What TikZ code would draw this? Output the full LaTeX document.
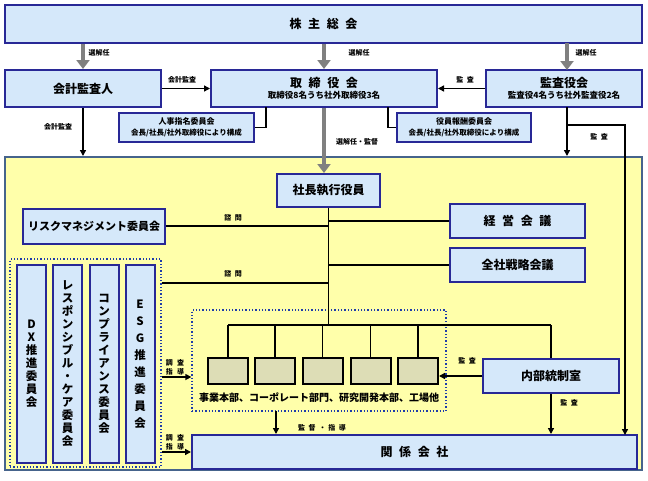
\documentclass[tikz,border=0pt]{standalone}
\usepackage{fontspec}
\setmainfont{Noto Sans CJK JP}
\usetikzlibrary{arrows.meta}
\definecolor{lb}{RGB}{213,232,250}
\definecolor{navy}{RGB}{40,40,150}
\definecolor{ylw}{RGB}{255,255,170}
\definecolor{ylwborder}{RGB}{70,100,140}
\definecolor{khaki}{RGB}{221,221,182}
\definecolor{dotblue}{RGB}{30,60,170}
\definecolor{garrowc}{RGB}{128,128,128}
\newcommand\gsp{\hspace{0.55em}}
\begin{document}
\begin{tikzpicture}[x=1pt,y=-1pt,font=\bfseries,
  bluebox/.style={draw=navy,fill=lb,line width=2,inner sep=0,align=center},
  deptbox/.style={draw=black,fill=khaki,line width=2,inner sep=0,minimum width=40,minimum height=26},
  dotbox/.style={draw=dotblue,line width=1.3,dotted,inner sep=0},
  lbl/.style={font=\bfseries\fontsize{7}{8}\selectfont,inner sep=0},
  big/.style={font=\bfseries\fontsize{12}{14}\selectfont},
  vert/.style={bluebox,font=\bfseries\fontsize{11.5}{13}\selectfont,minimum width=29,minimum height=198},
  garrow/.style={draw=garrowc,line width=4,-{Triangle[length=9pt,width=13pt]}},
  barrow/.style={draw=black,line width=1.4,-{Triangle[length=6pt,width=6pt]}},
  bline/.style={draw=black,line width=1.4}]
\useasboundingbox (0,0) rectangle (648,480);
% yellow region
\node[draw=ylwborder,fill=ylw,line width=2,inner sep=0,minimum width=637,minimum height=313] (yel) at (323.5,313.5) {};
% top
\node[bluebox,big,minimum width=637,minimum height=38] (kabu) at (323.5,24) {株\gsp{}主\gsp{}総\gsp{}会};
\node[bluebox,big,minimum width=156,minimum height=37] (kaikei) at (83,88.5) {会計監査人};
\node[bluebox,minimum width=226,minimum height=37] (tori) at (324,88.5) {{\fontsize{12}{14}\selectfont 取\gsp{}締\gsp{}役\gsp{}会}\\[-1pt]{\fontsize{8.5}{9}\selectfont 取締役8名うち社外取締役3名}};
\node[bluebox,minimum width=156,minimum height=37] (kansa) at (564,88.5) {{\fontsize{12}{14}\selectfont 監査役会}\\[-1pt]{\fontsize{8.5}{9}\selectfont 監査役4名うち社外監査役2名}};
\node[bluebox,minimum width=135,minimum height=29] (jinji) at (186.5,127.5) {{\fontsize{8}{9}\selectfont 人事指名委員会}\\[-1pt]{\fontsize{7.5}{8}\selectfont 会長/社長/社外取締役により構成}};
\node[bluebox,minimum width=134,minimum height=29] (yakuin) at (464,127.5) {{\fontsize{8}{9}\selectfont 役員報酬委員会}\\[-1pt]{\fontsize{7.5}{8}\selectfont 会長/社長/社外取締役により構成}};
% executive
\node[bluebox,big,minimum width=103,minimum height=33] (shacho) at (328.5,190.5) {社長執行役員};
\node[bluebox,font=\bfseries\fontsize{11}{13}\selectfont,minimum width=142,minimum height=35] (risk) at (94,226) {リスクマネジメント委員会};
\node[bluebox,big,minimum width=135,minimum height=34] (keiei) at (517.5,221) {経\gsp{}営\gsp{}会\gsp{}議};
\node[bluebox,big,minimum width=135,minimum height=34] (zensha) at (517.5,265) {全社戦略会議};
% left committees
\node[dotbox,minimum width=151,minimum height=208] (ldot) at (85.5,363) {};
\node[vert] (dx) at (31.5,364) {D\\X\\推\\進\\委\\員\\会};
\node[vert] (rc) at (67.5,364) {レ\\ス\\ポ\\ン\\シ\\ブ\\ル\\・\\ケ\\ア\\委\\員\\会};
\node[vert] (comp) at (104,364) {コ\\ン\\プ\\ラ\\イ\\ア\\ン\\ス\\委\\員\\会};
\node[vert,font=\bfseries\fontsize{11.5}{17}\selectfont] (esg) at (140,364) {E\\S\\G\\推\\進\\委\\員\\会};
% departments
\node[dotbox,minimum width=254,minimum height=101] (cdot) at (319,360.5) {};
\node[deptbox] (d1) at (228,371) {};
\node[deptbox] (d2) at (275,371) {};
\node[deptbox] (d3) at (322.5,371) {};
\node[deptbox] (d4) at (370.5,371) {};
\node[deptbox] (d5) at (418,371) {};
\node[inner sep=0,font=\bfseries\fontsize{10}{12}\selectfont] (dlbl) at (319,398) {事業本部、コーポレート部門、研究開発本部、工場他};
\node[bluebox,big,minimum width=136,minimum height=34] (naibu) at (551,376) {内部統制室};
\node[bluebox,big,minimum width=445,minimum height=34] (kankei) at (414.5,452) {関\gsp{}係\gsp{}会\gsp{}社};
% gray arrows
\draw[garrow] (kabu.south -| kaikei.north) -- (kaikei.north);
\draw[garrow] (kabu.south -| tori.north) -- (tori.north);
\draw[garrow] (567,43) -- (567,70);
\draw[garrow] (tori.south) -- (tori.south |- shacho.north);
\node[lbl] (l1) at (99,53) {選解任};
\node[lbl] (l2) at (359,53) {選解任};
\node[lbl] (l3) at (586,53) {選解任};
% top black connectors
\draw[barrow] (kaikei.east) -- (tori.west);
\node[lbl] (l4) at (182,80) {会計監査};
\draw[barrow] (kansa.west) -- (tori.east);
\node[lbl] (l5) at (465,80) {監\hspace{0.5em}査};
\coordinate (j1) at (266,107);
\draw[bline] (j1) |- (jinji.east);
\coordinate (y1) at (388,107);
\draw[bline] (y1) |- (yakuin.west);
\draw[barrow] (kaikei.south) -- (kaikei.south |- yel.north);
\node[lbl] (l6) at (58,127) {会計監査};
\node[lbl] (l7) at (357,142) {選解任・監督};
\coordinate (k1) at (567,107);
\coordinate (k2) at (567,125);
\coordinate (k3) at (625,435);
\draw[barrow] (k1) -- (k1 |- yel.north);
\draw[bline] (k2) -| (625,420);
\draw[barrow] (625,420) -- (k3);
\node[lbl] (l8) at (599,137) {監\hspace{0.5em}査};
% trunk
\coordinate (t1) at (328.5,325);
\draw[bline] (shacho.south) -- (t1);
\draw[bline] (risk.east) -- (risk.east -| t1);
\node[lbl] (l9) at (233,218) {諮\hspace{0.5em}問};
\draw[bline] (keiei.west) -- (keiei.west -| t1);
\draw[bline] (zensha.west) -- (zensha.west -| t1);
\coordinate (lc) at (161.5,283);
\draw[bline] (lc) -- (lc -| t1);
\node[lbl] (l10) at (233,274) {諮\hspace{0.5em}問};
\draw[bline] (d1.north |- t1) -- (naibu.north |- t1);
\foreach \d in {d1,d2,d3,d4,d5} \draw[bline] (\d.north |- t1) -- (\d.north);
\draw[bline] (naibu.north |- t1) -- (naibu.north);
% lower arrows
\draw[barrow] (naibu.west) -- (d5.east |- naibu.west);
\node[lbl] (l11) at (467,361) {監\hspace{0.5em}査};
\draw[barrow] (naibu.south) -- (naibu.south |- kankei.north);
\node[lbl] (l12) at (569,403) {監\hspace{0.5em}査};
\coordinate (c1) at (276,411);
\draw[barrow] (c1) -- (c1 |- kankei.north);
\node[lbl] (l13) at (322,428) {監\hspace{0.5em}督\hspace{0.5em}・\hspace{0.3em}指\hspace{0.5em}導};
\coordinate (a1) at (162,377);
\draw[barrow] (a1) -- (a1 -| cdot.west);
\node[lbl,align=left,font=\bfseries\fontsize{7}{9}\selectfont] (l14) at (175,367) {調\hspace{0.6em}査\\指\hspace{0.6em}導};
\coordinate (a2) at (162,452);
\draw[barrow] (a2) -- (kankei.west);
\node[lbl,align=left,font=\bfseries\fontsize{7}{9}\selectfont] (l15) at (175,442) {調\hspace{0.6em}査\\指\hspace{0.6em}導};
\end{tikzpicture}
\end{document}
